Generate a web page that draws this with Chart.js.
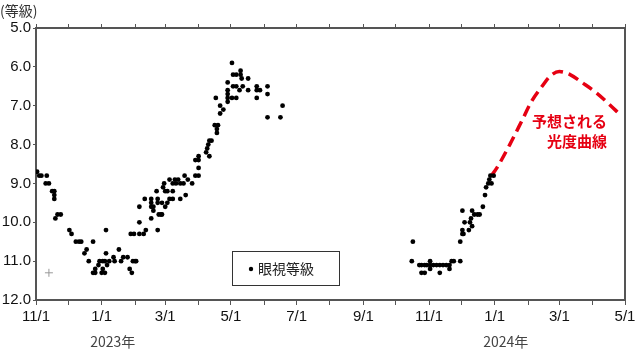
<!DOCTYPE html>
<html lang="ja">
<head>
<meta charset="utf-8">
<title>光度曲線</title>

<script src="https://cdn.jsdelivr.net/npm/chart.js"></script>

<style>
  body{margin:0;background:#fff}
  #wrap{width:640px;height:350px}
</style>
</head>
<body>

<div id="wrap"><canvas id="chart" width="640" height="350"></canvas></div>

<script>
// x は 2022-11-01 からの経過日数
const START = Date.UTC(2022,10,1);

const tickMonths  = ['2022-11','2022-12','2023-01','2023-02','2023-03','2023-04','2023-05','2023-06','2023-07','2023-08',
                     '2023-09','2023-10','2023-11','2023-12','2024-01','2024-02','2024-03','2024-04','2024-05'];
const xTickLabels = ['11/1','','1/1','','3/1','','5/1','','7/1','','9/1','','11/1','','1/1','','3/1','','5/1'];
const yearMonths  = ['2023-01','2024-01'];
const yearLabels  = ['2023年','2024年'];
const yTitle      = '(等級)';

// 眼視等級
const obsDay = [1,3,5,9,10,12,15,17,17,17,18,20,23,31,33,37,40,42,45,47,49,53,53,55,55,58,59,61,62,62,64,64,65,65,66,68,
  72,73,77,79,81,85,87,88,89,90,91,92,93,96,96,96,100,101,102,107,107,107,107,109,109,112,113,113,113,114,116,117,117,
  118,119,120,120,122,122,124,124,127,127,127,129,130,132,134,134,137,138,139,141,145,148,148,151,151,151,151,
  158,159,160,161,161,163,166,167,168,168,169,171,171,174,178,178,178,178,178,182,182,183,183,186,186,186,189,190,190,
  191,192,197,197,205,205,205,208,215,215,215,227,229,
  349,350,356,358,358,361,361,363,366,366,366,369,372,375,375,378,381,384,384,386,388,394,394,396,396,396,397,398,
  402,403,404,405,405,407,410,412,415,417,418,420,421,422,423,425];
const obsMag = [8.7,8.8,8.8,9.0,8.8,9.0,9.2,9.2,9.3,9.4,9.9,9.8,9.8,10.2,10.3,10.5,10.5,10.5,10.8,10.7,11.0,10.5,11.3,11.3,11.2,
  11.1,11.0,11.3,11.0,11.2,11.0,11.3,10.2,10.8,11.1,11.0,
  10.9,11.0,10.7,11.0,10.9,10.9,11.2,10.3,11.3,11.0,10.3,11.0,11.0,10.3,9.6,10.0,10.3,9.4,10.2,9.9,9.6,9.5,9.4,9.7,9.6,
  9.2,10.2,9.5,9.4,9.8,9.8,9.8,9.5,
  9.1,9.0,9.6,9.2,9.5,9.2,9.4,8.9,9.4,9.2,9.0,8.9,9.0,8.9,9.4,9.0,9.0,8.8,9.3,8.9,9.0,8.8,8.4,8.8,8.6,8.4,8.3,
  8.2,8.1,8.0,8.3,7.9,7.9,7.5,6.8,7.6,7.7,7.5,7.2,7.0,7.1,6.8,6.9,6.6,6.7,6.4,6.8,5.9,6.5,6.2,6.8,6.5,6.2,6.6,6.1,6.2,
  6.3,6.5,6.3,6.6,6.5,6.6,6.8,6.6,6.5,6.7,7.3,7.3,7.0,
  11.0,10.5,11.1,11.1,11.3,11.1,11.3,11.1,11.0,11.1,11.2,11.1,11.1,11.1,11.3,11.1,11.1,11.1,11.2,11.0,11.0,11.0,10.5,10.2,
  10.3,9.7,10.3,10.0,
  10.2,10.0,9.9,9.7,10.1,9.8,9.8,9.8,9.6,9.3,9.1,9.0,8.9,8.8,9.0,8.8];

// 予想される光度曲線
const forecastDay = [423,428,440,451,460,470,477,486,496,508,521,533,541];
const forecastMag = [8.8,8.6,8.0,7.4,6.9,6.5,6.25,6.12,6.2,6.42,6.68,6.98,7.19];

// 灰色の＋印
const crossDay = [12];
const crossMag = [11.3];

const dayOf = ym => { const [y,m] = ym.split('-').map(Number); return (Date.UTC(y,m-1,1)-START)/864e5; };
const pts = (xs,ys) => xs.map((d,i)=>({x:d,y:ys[i]}));

const FONT = '"Liberation Sans","Noto Sans CJK JP",sans-serif';
const JP   = '"Noto Sans CJK JP",sans-serif';
const frame = '#555';
const xMax = dayOf(tickMonths[tickMonths.length-1]);
const monthTicks = s => { s.ticks = tickMonths.map(m=>({value:dayOf(m)})); };

const extras = {
  id:'extras',
  afterDraw(chart){
    const {ctx, scales:{x}} = chart;
    ctx.save();
    ctx.textBaseline = 'middle';
    // 縦軸の単位
    ctx.fillStyle = '#333'; ctx.font = '14px '+JP; ctx.textAlign = 'left';
    ctx.fillText(yTitle, 0, 11);
    // 年
    ctx.fillStyle = '#444'; ctx.textAlign = 'center';
    yearLabels.forEach((t,i)=>ctx.fillText(t, x.getPixelForValue(dayOf(yearMonths[i]))+11, 342));
    // 凡例
    ctx.fillStyle = '#fff'; ctx.fillRect(232,251,108,35);
    ctx.strokeStyle = '#333'; ctx.lineWidth = 1; ctx.strokeRect(232.5,251.5,107,34);
    ctx.fillStyle = '#000'; ctx.beginPath(); ctx.arc(251,269,2.2,0,Math.PI*2); ctx.fill();
    ctx.fillStyle = '#222'; ctx.textAlign = 'left'; ctx.font = '14px '+JP;
    ctx.fillText(chart.data.datasets[0].label, 258, 269);
    // 予想曲線の注記
    ctx.fillStyle = '#e60012'; ctx.font = 'bold 15px '+JP; ctx.textAlign = 'right';
    ctx.fillText('予想される', 607, 121);
    ctx.fillText('光度曲線', 607, 141);
    ctx.restore();
  }
};

new Chart(document.getElementById('chart'),{
  type:'scatter',
  data:{
    datasets:[
      { label:'眼視等級', data:pts(obsDay,obsMag), backgroundColor:'#000', borderWidth:0, pointRadius:2.4, order:1 },
      { label:'予想される光度曲線', data:pts(forecastDay,forecastMag), showLine:true, borderColor:'#e60012',
        borderWidth:3.5, borderDash:[11,6], pointRadius:0, cubicInterpolationMode:'monotone', order:2 },
      { label:'', data:pts(crossDay,crossMag), pointStyle:'cross', pointRadius:4, borderColor:'#999',
        borderWidth:1, order:3 }
    ]
  },
  options:{
    responsive:false,
    animation:false,
    layout:{padding:0},
    plugins:{ legend:{display:false}, tooltip:{enabled:false} },
    scales:{
      x:{
        type:'linear', position:'bottom', min:0, max:xMax,
        afterBuildTicks:monthTicks,
        afterFit:s=>{ s.height = 50; },
        ticks:{ autoSkip:false, maxRotation:0, padding:3, color:'#111', font:{size:15,family:FONT},
                callback:(v,i)=>xTickLabels[i] },
        grid:{ drawOnChartArea:false, tickLength:5, color:frame },
        border:{ color:frame, width:2 }
      },
      xTop:{
        type:'linear', position:'top', min:0, max:xMax,
        afterBuildTicks:monthTicks,
        afterFit:s=>{ s.height = 28; },
        ticks:{ display:false },
        grid:{ drawOnChartArea:false, tickLength:4, color:frame },
        border:{ color:frame, width:2 }
      },
      y:{
        type:'linear', reverse:true, min:5, max:12,
        afterFit:s=>{ s.width = 36; },
        ticks:{ stepSize:1, padding:2, color:'#111', font:{size:15,family:FONT}, callback:v=>v.toFixed(1) },
        grid:{ drawOnChartArea:false, tickLength:3, color:frame },
        border:{ color:frame, width:2 }
      },
      yRight:{
        type:'linear', position:'right', min:5, max:12,
        afterFit:s=>{ s.width = 15; },
        ticks:{ display:false },
        grid:{ display:false },
        border:{ color:frame, width:2 }
      }
    }
  },
  plugins:[extras]
});
</script>

</body>
</html>
